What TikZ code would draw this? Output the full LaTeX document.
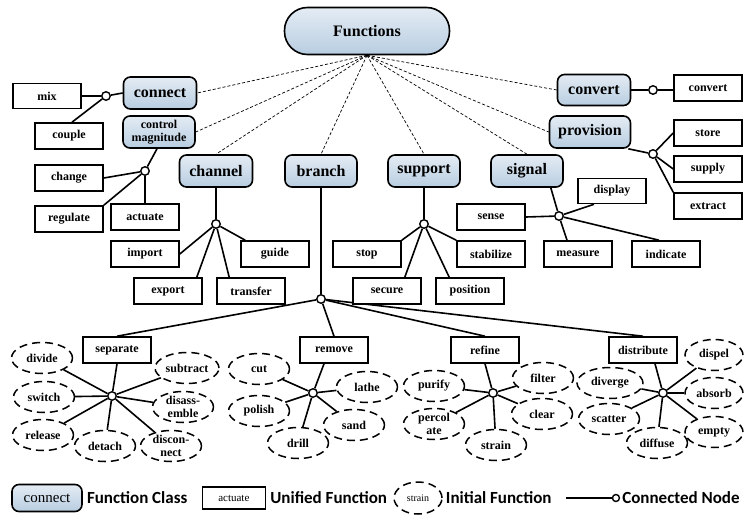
\documentclass[tikz,border=0pt]{standalone}
\usepackage{fontspec}
\setmainfont{Liberation Serif}
\newfontfamily\legendfont{Carlito}
\usetikzlibrary{shapes.geometric,backgrounds}
\definecolor{clsTop}{HTML}{E4ECF4}
\definecolor{clsBot}{HTML}{B8CDE1}

\begin{document}
\begin{tikzpicture}[x=1pt,y=-1pt,
  cls/.style={draw, line width=1.6pt, rounded corners=7pt, top color=clsTop, bottom color=clsBot,
    minimum width=73pt, minimum height=32pt, inner sep=0pt, align=center,
    font=\fontsize{16}{18}\selectfont\bfseries},
  clssmall/.style={cls, font=\fontsize{12}{12.5}\selectfont\bfseries},
  ubox/.style={draw, line width=1.6pt, fill=white, minimum width=68pt, minimum height=26pt,
    inner sep=0pt, font=\fontsize{12}{13}\selectfont\bfseries},
  ibox/.style={ellipse, draw, dash pattern=on 8pt off 5pt, line width=1.5pt, fill=white,
    minimum width=61pt, minimum height=31pt, inner sep=0pt, align=center,
    font=\fontsize{12}{12.5}\selectfont\bfseries},
  hub/.style={circle, draw, line width=1.4pt, fill=white, minimum size=8.5pt, inner sep=0pt},
  link/.style={line width=1.6pt},
  dlink/.style={dash pattern=on 3pt off 2pt, line width=0.7pt},
  legtext/.style={anchor=west, inner sep=0pt, font=\legendfont\fontsize{17}{19}\selectfont\bfseries}
]
\useasboundingbox (0,0) rectangle (744,514);

% root
\node[cls, rounded corners=23pt, minimum width=165pt, minimum height=47pt] (fn) at (367,31) {Functions};

% function classes
\node[cls] (connect) at (160,93) {connect};
\node[clssmall, minimum width=72pt] (cm) at (159,132) {control\\magnitude};
\node[cls] (channel) at (216,171) {channel};
\node[cls, minimum width=72pt] (branch) at (321,171) {branch};
\node[cls, minimum width=72pt] (support) at (424,171) {support};
\node[cls, minimum width=72pt] (signal) at (527,171) {signal};
\node[cls, minimum height=31pt] (convert) at (594,90) {convert};
\node[cls, minimum width=81pt] (provision) at (590,132) {provision};

% unified functions
\node[ubox, minimum height=25pt] (mix) at (47,96) {mix};
\node[ubox] (couple) at (69,136) {couple};
\node[ubox] (change) at (69,178) {change};
\node[ubox] (regulate) at (69,219) {regulate};
\node[ubox] (actuate) at (145,217) {actuate};
\node[ubox] (import) at (145,254) {import};
\node[ubox] (guide) at (275,254) {guide};
\node[ubox] (export) at (168,291) {export};
\node[ubox] (transfer) at (251,291) {transfer};
\node[ubox] (stop) at (367,254) {stop};
\node[ubox] (stabilize) at (491,254) {stabilize};
\node[ubox] (secure) at (387,291) {secure};
\node[ubox] (position) at (470,291) {position};
\node[ubox, minimum height=25pt] (display) at (612,191) {display};
\node[ubox] (sense) at (491,217) {sense};
\node[ubox] (measure) at (578,254) {measure};
\node[ubox] (indicate) at (666,254) {indicate};
\node[ubox] (convertU) at (708,88) {convert};
\node[ubox] (store) at (708,133) {store};
\node[ubox] (supply) at (708,169) {supply};
\node[ubox] (extract) at (708,206) {extract};
\node[ubox] (separate) at (117,350) {separate};
\node[ubox] (remove) at (334,350) {remove};
\node[ubox] (refine) at (485,350) {refine};
\node[ubox] (distribute) at (643,350) {distribute};

% connection hubs
\node[hub] (hConn) at (106,96) {};
\node[hub] (hCm) at (145,171) {};
\node[hub] (hChan) at (216,224) {};
\node[hub] (hBranch) at (321,299) {};
\node[hub] (hSupp) at (424,224) {};
\node[hub] (hSig) at (559,216) {};
\node[hub] (hConv) at (653,90) {};
\node[hub] (hProv) at (653,154) {};
\node[hub] (hSep) at (112,396) {};
\node[hub] (hRem) at (313,393) {};
\node[hub] (hRef) at (493,393) {};
\node[hub] (hDist) at (663,393) {};

% initial functions
\node[ibox] (divide) at (42,358) {divide};
\node[ibox] (switch) at (44,397) {switch};
\node[ibox] (release) at (43,435) {release};
\node[ibox] (detach) at (105,446) {detach};
\node[ibox, minimum width=64pt] (subtract) at (187,368) {subtract};
\node[ibox] (disass) at (183,407) {disass-\\emble};
\node[ibox] (discon) at (171,446) {discon-\\nect};
\node[ibox] (cut) at (259,369) {cut};
\node[ibox] (polish) at (259,411) {polish};
\node[ibox] (drill) at (298,443) {drill};
\node[ibox] (lathe) at (367,387) {lathe};
\node[ibox] (sand) at (354,425) {sand};
\node[ibox] (purify) at (434,386) {purify};
\node[ibox] (percol) at (434,424) {percol\\ate};
\node[ibox] (strain) at (496,445) {strain};
\node[ibox] (filter) at (543,378) {filter};
\node[ibox] (clear) at (542,414) {clear};
\node[ibox, minimum width=66pt] (diverge) at (610,383) {diverge};
\node[ibox] (scatter) at (609,419) {scatter};
\node[ibox] (diffuse) at (657,443) {diffuse};
\node[ibox, minimum width=58pt] (dispel) at (714,355) {dispel};
\node[ibox, minimum width=58pt] (absorb) at (714,393) {absorb};
\node[ibox, minimum width=58pt] (empty) at (714,432) {empty};

\begin{scope}[on background layer]
  % root to classes
  \foreach \t in {connect.east, cm.east, channel.north, branch.north, support.north,
                  signal.north, provision.west, convert.west}
    \draw[dlink] (fn.south) -- (\t);

  % connect
  \draw[link] (connect.west) -- (hConn) -- (mix.east);
  \draw[link] (hConn) -- ([xshift=3pt]couple.north);
  % control magnitude
  \draw[link] ([xshift=-2pt]cm.south) -- (hCm) -- (regulate.north east);
  \draw[link] (hCm) -- (change.east);
  \draw[link] (hCm) -- (actuate.north);
  % channel
  \draw[link] (channel.south) -- (hChan);
  \draw[link] (hChan) -- (import.east);
  \draw[link] (hChan) -- ([xshift=5pt]guide.north west);
  \draw[link] (hChan) -- ([xshift=-6pt]export.north east);
  \draw[link] (hChan) -- ([xshift=13pt]transfer.north west);
  % branch
  \draw[link] (branch.south) -- (hBranch);
  \foreach \t in {separate, remove, refine, distribute}
    \draw[link] (hBranch) -- (\t.north);
  % support
  \draw[link] (support.south) -- (hSupp);
  \draw[link] (hSupp) -- (stop.north east);
  \draw[link] (hSupp) -- (stabilize.north west);
  \draw[link] (hSupp) -- ([xshift=-17pt]secure.north east);
  \draw[link] (hSupp) -- ([xshift=14pt]position.north west);
  % signal
  \draw[link] ([xshift=-13pt]signal.south east) -- (hSig);
  \draw[link] (hSig) -- (sense.east);
  \draw[link] (hSig) -- ([xshift=-11pt]measure.north);
  \draw[link] (hSig) -- ([xshift=-18pt]display.south);
  \draw[link] (hSig) -- ([xshift=-7pt]indicate.north);
  % convert
  \draw[link] (convert.east) -- (hConv) -- (hConv -| convertU.west);
  % provision
  \draw[link] ([xshift=-3pt]provision.south east) -- (hProv);
  \draw[link] (hProv) -- (store.west);
  \draw[link] (hProv) -- (supply.west);
  \draw[link] (hProv) -- (extract.north west);
  % separate
  \draw[link] (separate.south) -- (hSep);
  \foreach \t in {divide, switch, release, detach, subtract, disass, discon}
    \draw[link] (hSep) -- (\t);
  % remove
  \draw[link] ([xshift=-10pt]remove.south) -- (hRem);
  \foreach \t in {cut, polish, drill, lathe, sand}
    \draw[link] (hRem) -- (\t);
  % refine
  \draw[link] (refine.south) -- (hRef);
  \foreach \t in {purify, percol, strain, filter, clear}
    \draw[link] (hRef) -- (\t);
  % distribute
  \draw[link] ([xshift=12pt]distribute.south) -- (hDist);
  \foreach \t in {diverge, scatter, diffuse, dispel, absorb, empty}
    \draw[link] (hDist) -- (\t);
\end{scope}

% legend
\node[cls, minimum width=70pt, minimum height=27pt, font=\fontsize{15}{16}\selectfont] (lgCls) at (47,498) {connect};
\node[legtext] (lgClsT) at ([xshift=4pt]lgCls.east) {Function Class};
\node[ubox, anchor=west, minimum width=63pt, minimum height=22pt, font=\fontsize{11}{12}\selectfont]
  (lgU) at ([xshift=14pt]lgClsT.east) {actuate};
\node[legtext] (lgUT) at ([xshift=4pt]lgU.east) {Unified Function};
\node[ibox, anchor=west, minimum width=48pt, minimum height=32pt, font=\fontsize{10}{11}\selectfont]
  (lgI) at ([xshift=6pt]lgUT.east) {strain};
\node[legtext] (lgIT) at ([xshift=3pt]lgI.east) {Initial Function};
\coordinate (lgL) at ([xshift=14pt]lgIT.east);
\node[hub, anchor=west, minimum size=7pt] (lgH) at ([xshift=46pt]lgL) {};
\draw[link] (lgL) -- (lgH);
\node[legtext] (lgHT) at ([xshift=2pt]lgH.east) {Connected Node};
\end{tikzpicture}
\end{document}
